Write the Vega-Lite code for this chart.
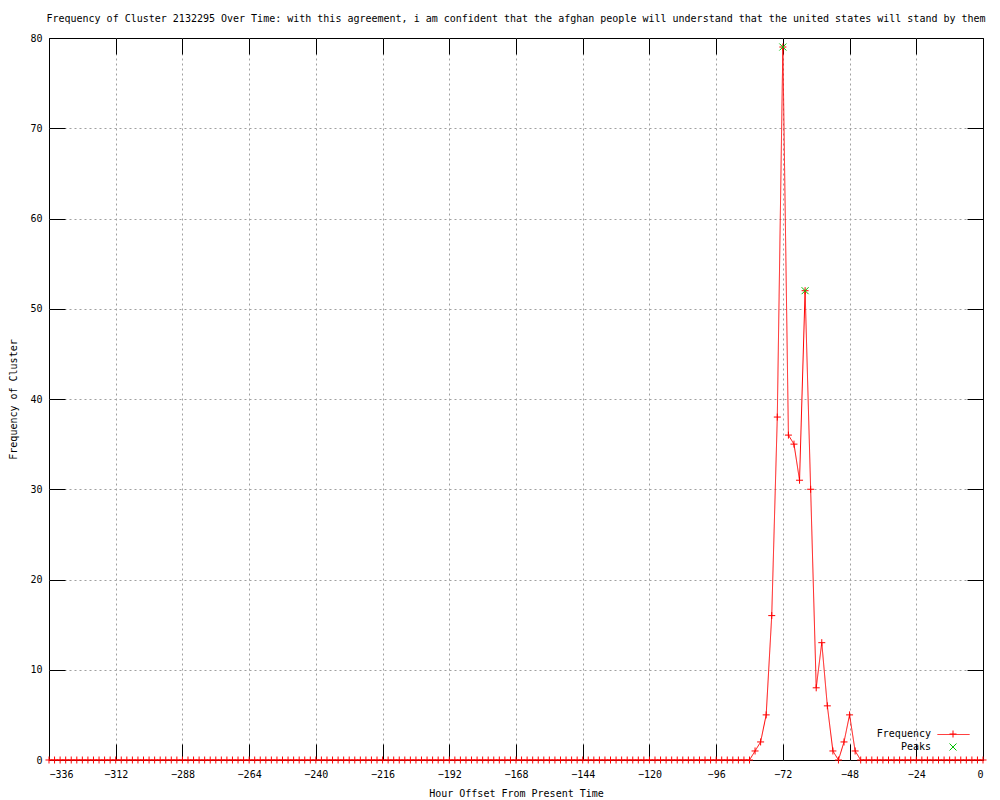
{
  "$schema": "https://vega.github.io/schema/vega-lite/v6.json",
  "width": 934,
  "height": 722,
  "autosize": {"type": "none"},
  "padding": {"left": 49, "top": 38, "right": 17, "bottom": 40},
  "background": "white",
  "title": {
    "text": "Frequency of Cluster 2132295 Over Time: with this agreement, i am confident that the afghan people will understand that the united states will stand by them",
    "font": "DejaVu Sans Mono",
    "fontSize": 10,
    "fontWeight": "normal",
    "color": "black",
    "anchor": "middle",
    "offset": 9
  },
  "datasets": {
    "freq": [
      {"h": -336, "f": 0}, {"h": -334, "f": 0}, {"h": -332, "f": 0}, {"h": -330, "f": 0}, {"h": -328, "f": 0}, {"h": -326, "f": 0}, {"h": -324, "f": 0}, {"h": -322, "f": 0}, {"h": -320, "f": 0}, {"h": -318, "f": 0},
      {"h": -316, "f": 0}, {"h": -314, "f": 0}, {"h": -312, "f": 0}, {"h": -310, "f": 0}, {"h": -308, "f": 0}, {"h": -306, "f": 0}, {"h": -304, "f": 0}, {"h": -302, "f": 0}, {"h": -300, "f": 0}, {"h": -298, "f": 0},
      {"h": -296, "f": 0}, {"h": -294, "f": 0}, {"h": -292, "f": 0}, {"h": -290, "f": 0}, {"h": -288, "f": 0}, {"h": -286, "f": 0}, {"h": -284, "f": 0}, {"h": -282, "f": 0}, {"h": -280, "f": 0}, {"h": -278, "f": 0},
      {"h": -276, "f": 0}, {"h": -274, "f": 0}, {"h": -272, "f": 0}, {"h": -270, "f": 0}, {"h": -268, "f": 0}, {"h": -266, "f": 0}, {"h": -264, "f": 0}, {"h": -262, "f": 0}, {"h": -260, "f": 0}, {"h": -258, "f": 0},
      {"h": -256, "f": 0}, {"h": -254, "f": 0}, {"h": -252, "f": 0}, {"h": -250, "f": 0}, {"h": -248, "f": 0}, {"h": -246, "f": 0}, {"h": -244, "f": 0}, {"h": -242, "f": 0}, {"h": -240, "f": 0}, {"h": -238, "f": 0},
      {"h": -236, "f": 0}, {"h": -234, "f": 0}, {"h": -232, "f": 0}, {"h": -230, "f": 0}, {"h": -228, "f": 0}, {"h": -226, "f": 0}, {"h": -224, "f": 0}, {"h": -222, "f": 0}, {"h": -220, "f": 0}, {"h": -218, "f": 0},
      {"h": -216, "f": 0}, {"h": -214, "f": 0}, {"h": -212, "f": 0}, {"h": -210, "f": 0}, {"h": -208, "f": 0}, {"h": -206, "f": 0}, {"h": -204, "f": 0}, {"h": -202, "f": 0}, {"h": -200, "f": 0}, {"h": -198, "f": 0},
      {"h": -196, "f": 0}, {"h": -194, "f": 0}, {"h": -192, "f": 0}, {"h": -190, "f": 0}, {"h": -188, "f": 0}, {"h": -186, "f": 0}, {"h": -184, "f": 0}, {"h": -182, "f": 0}, {"h": -180, "f": 0}, {"h": -178, "f": 0},
      {"h": -176, "f": 0}, {"h": -174, "f": 0}, {"h": -172, "f": 0}, {"h": -170, "f": 0}, {"h": -168, "f": 0}, {"h": -166, "f": 0}, {"h": -164, "f": 0}, {"h": -162, "f": 0}, {"h": -160, "f": 0}, {"h": -158, "f": 0},
      {"h": -156, "f": 0}, {"h": -154, "f": 0}, {"h": -152, "f": 0}, {"h": -150, "f": 0}, {"h": -148, "f": 0}, {"h": -146, "f": 0}, {"h": -144, "f": 0}, {"h": -142, "f": 0}, {"h": -140, "f": 0}, {"h": -138, "f": 0},
      {"h": -136, "f": 0}, {"h": -134, "f": 0}, {"h": -132, "f": 0}, {"h": -130, "f": 0}, {"h": -128, "f": 0}, {"h": -126, "f": 0}, {"h": -124, "f": 0}, {"h": -122, "f": 0}, {"h": -120, "f": 0}, {"h": -118, "f": 0},
      {"h": -116, "f": 0}, {"h": -114, "f": 0}, {"h": -112, "f": 0}, {"h": -110, "f": 0}, {"h": -108, "f": 0}, {"h": -106, "f": 0}, {"h": -104, "f": 0}, {"h": -102, "f": 0}, {"h": -100, "f": 0}, {"h": -98, "f": 0},
      {"h": -96, "f": 0}, {"h": -94, "f": 0}, {"h": -92, "f": 0}, {"h": -90, "f": 0}, {"h": -88, "f": 0}, {"h": -86, "f": 0}, {"h": -84, "f": 0}, {"h": -82, "f": 1}, {"h": -80, "f": 2}, {"h": -78, "f": 5},
      {"h": -76, "f": 16}, {"h": -74, "f": 38}, {"h": -72, "f": 79}, {"h": -70, "f": 36}, {"h": -68, "f": 35}, {"h": -66, "f": 31}, {"h": -64, "f": 52}, {"h": -62, "f": 30}, {"h": -60, "f": 8}, {"h": -58, "f": 13},
      {"h": -56, "f": 6}, {"h": -54, "f": 1}, {"h": -52, "f": 0}, {"h": -50, "f": 2}, {"h": -48, "f": 5}, {"h": -46, "f": 1}, {"h": -44, "f": 0}, {"h": -42, "f": 0}, {"h": -40, "f": 0}, {"h": -38, "f": 0},
      {"h": -36, "f": 0}, {"h": -34, "f": 0}, {"h": -32, "f": 0}, {"h": -30, "f": 0}, {"h": -28, "f": 0}, {"h": -26, "f": 0}, {"h": -24, "f": 0}, {"h": -22, "f": 0}, {"h": -20, "f": 0}, {"h": -18, "f": 0},
      {"h": -16, "f": 0}, {"h": -14, "f": 0}, {"h": -12, "f": 0}, {"h": -10, "f": 0}, {"h": -8, "f": 0}, {"h": -6, "f": 0}, {"h": -4, "f": 0}, {"h": -2, "f": 0}, {"h": 0, "f": 0}
    ],
    "peaks": [
      {"h": -72, "f": 79},
      {"h": -64, "f": 52}
    ]
  },
  "config": {
    "font": "DejaVu Sans Mono",
    "view": {"stroke": "black", "strokeWidth": 1},
    "axis": {
      "domain": false,
      "labelFont": "DejaVu Sans Mono",
      "labelFontSize": 10,
      "labelColor": "black",
      "titleFont": "DejaVu Sans Mono",
      "titleFontSize": 10,
      "titleFontWeight": "normal",
      "titleColor": "black",
      "tickColor": "black",
      "tickSize": -16,
      "tickWidth": 1,
      "gridColor": "#a0a0a0",
      "gridDash": [2, 3],
      "gridWidth": 1
    },
    "legend": {
      "orient": "none",
      "padding": 0,
      "labelFont": "DejaVu Sans Mono",
      "labelFontSize": 10,
      "labelColor": "black",
      "labelAlign": "right"
    }
  },
  "layer": [
    {
      "data": {"name": "freq"},
      "mark": {"type": "line", "color": "#ff0000", "strokeWidth": 1},
      "encoding": {
        "x": {
          "field": "h", "type": "quantitative",
          "scale": {"domain": [-336, 0], "nice": false, "zero": false},
          "axis": {
            "orient": "bottom",
            "values": [-336, -312, -288, -264, -240, -216, -192, -168, -144, -120, -96, -72, -48, -24, 0],
            "grid": true,
            "gridOpacity": {"condition": {"test": "datum.value <= -336 || datum.value >= 0", "value": 0}, "value": 1},
            "title": "Hour Offset From Present Time",
            "labelPadding": 25,
            "titlePadding": 9
          }
        },
        "y": {
          "field": "f", "type": "quantitative",
          "scale": {"domain": [0, 80], "nice": false},
          "axis": {
            "orient": "left",
            "values": [0, 10, 20, 30, 40, 50, 60, 70, 80],
            "grid": true,
            "gridOpacity": {"condition": {"test": "datum.value <= 0 || datum.value >= 80", "value": 0}, "value": 1},
            "title": "Frequency of Cluster",
            "labelPadding": 23,
            "titlePadding": 11
          }
        },
        "strokeDash": {
          "datum": "Frequency", "type": "nominal",
          "scale": {"domain": ["Frequency"], "range": [[1, 0]]},
          "legend": {
            "legendX": 888,
            "legendY": 680,
            "title": null,
            "symbolType": "stroke",
            "symbolSize": 1024,
            "symbolStrokeWidth": 1,
            "symbolStrokeColor": "#ff0000",
            "labelExpr": "''"
          }
        }
      }
    },
    {
      "data": {"name": "freq"},
      "mark": {"type": "point", "size": 49, "filled": false, "strokeWidth": 1, "opacity": 1},
      "encoding": {
        "x": {
          "field": "h", "type": "quantitative",
          "axis": {"orient": "top", "values": [-336, -312, -288, -264, -240, -216, -192, -168, -144, -120, -96, -72, -48, -24, 0], "labels": false, "grid": false, "title": null}
        },
        "y": {
          "field": "f", "type": "quantitative",
          "axis": {"orient": "right", "values": [0, 10, 20, 30, 40, 50, 60, 70, 80], "labels": false, "grid": false, "title": null}
        },
        "color": {
          "datum": "Frequency", "type": "nominal",
          "scale": {"domain": ["Frequency", "Peaks"], "range": ["#ff0000", "#00c000"]},
          "legend": {
            "legendX": 899,
            "legendY": 691,
            "title": null,
            "symbolSize": 49,
            "symbolStrokeWidth": 1,
            "labelOffset": -27,
            "rowPadding": 1
          }
        },
        "shape": {
          "datum": "Frequency", "type": "nominal",
          "scale": {"domain": ["Frequency", "Peaks"], "range": ["M-1,0L1,0M0,-1L0,1", "M-1,-1L1,1M-1,1L1,-1"]}
        }
      }
    },
    {
      "data": {"name": "peaks"},
      "mark": {"type": "point", "size": 49, "filled": false, "strokeWidth": 1, "opacity": 1},
      "encoding": {
        "x": {"field": "h", "type": "quantitative", "axis": null},
        "y": {"field": "f", "type": "quantitative", "axis": null},
        "color": {"datum": "Peaks", "type": "nominal"},
        "shape": {"datum": "Peaks", "type": "nominal"}
      }
    }
  ],
  "resolve": {"axis": {"x": "independent", "y": "independent"}}
}
